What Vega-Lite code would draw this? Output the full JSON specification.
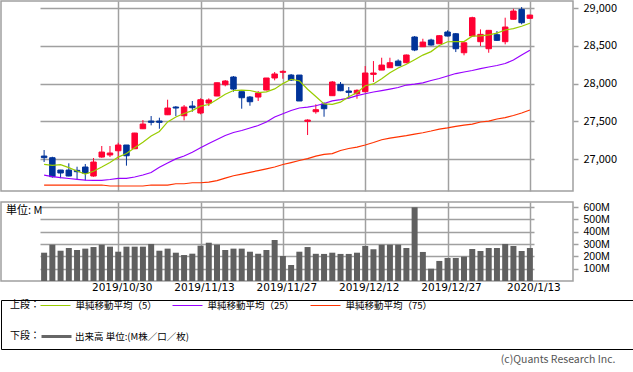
{
  "$schema": "https://vega.github.io/schema/vega-lite/v6.json",
  "padding": 0,
  "background": "white",
  "config": {"font": "Noto Sans CJK JP", "view": {"stroke": null}},
  "title": {"text": "(c)Quants Research Inc.", "orient": "bottom", "anchor": "end", "offset": 5, "dx": -18, "fontSize": 10.5, "fontWeight": "normal", "color": "#555555"},
  "resolve": {"scale": {"color": "independent", "stroke": "independent"}, "legend": {"color": "independent", "stroke": "independent"}},
  "datasets": {
    "ohlc": [
      {"d": "2019/10/17", "o": 27043, "h": 27123, "l": 26964, "c": 27022, "v": 230, "m5": 26933, "m25": 26792, "m75": 26660},
      {"d": "2019/10/18", "o": 27021, "h": 27034, "l": 26757, "c": 26770, "v": 295, "m5": 26920, "m25": 26772, "m75": 26660},
      {"d": "2019/10/21", "o": 26858, "h": 26860, "l": 26750, "c": 26819, "v": 246, "m5": 26930, "m25": 26757, "m75": 26660},
      {"d": "2019/10/22", "o": 26858, "h": 26947, "l": 26775, "c": 26779, "v": 268, "m5": 26890, "m25": 26746, "m75": 26660},
      {"d": "2019/10/23", "o": 26854, "h": 26902, "l": 26735, "c": 26836, "v": 252, "m5": 26845, "m25": 26735, "m75": 26660},
      {"d": "2019/10/24", "o": 26898, "h": 26938, "l": 26722, "c": 26814, "v": 263, "m5": 26804, "m25": 26726, "m75": 26660},
      {"d": "2019/10/25", "o": 26779, "h": 27017, "l": 26770, "c": 26964, "v": 276, "m5": 26842, "m25": 26722, "m75": 26660},
      {"d": "2019/10/28", "o": 27030, "h": 27176, "l": 27021, "c": 27096, "v": 295, "m5": 26898, "m25": 26722, "m75": 26660},
      {"d": "2019/10/29", "o": 27057, "h": 27176, "l": 27030, "c": 27083, "v": 279, "m5": 26959, "m25": 26733, "m75": 26647},
      {"d": "2019/10/30", "o": 27113, "h": 27219, "l": 27000, "c": 27189, "v": 238, "m5": 27029, "m25": 26749, "m75": 26647},
      {"d": "2019/10/31", "o": 27189, "h": 27189, "l": 26916, "c": 27047, "v": 279, "m5": 27076, "m25": 26749, "m75": 26647},
      {"d": "2019/11/1", "o": 27140, "h": 27350, "l": 27135, "c": 27347, "v": 279, "m5": 27152, "m25": 26766, "m75": 26647},
      {"d": "2019/11/4", "o": 27404, "h": 27519, "l": 27400, "c": 27466, "v": 279, "m5": 27226, "m25": 26792, "m75": 26647},
      {"d": "2019/11/5", "o": 27506, "h": 27572, "l": 27449, "c": 27489, "v": 301, "m5": 27308, "m25": 26825, "m75": 26660},
      {"d": "2019/11/6", "o": 27506, "h": 27550, "l": 27404, "c": 27489, "v": 246, "m5": 27368, "m25": 26895, "m75": 26660},
      {"d": "2019/11/7", "o": 27589, "h": 27788, "l": 27585, "c": 27678, "v": 263, "m5": 27494, "m25": 26951, "m75": 26660},
      {"d": "2019/11/8", "o": 27691, "h": 27704, "l": 27572, "c": 27678, "v": 230, "m5": 27560, "m25": 27006, "m75": 26677},
      {"d": "2019/11/11", "o": 27576, "h": 27718, "l": 27515, "c": 27691, "v": 211, "m5": 27605, "m25": 27043, "m75": 26677},
      {"d": "2019/11/12", "o": 27704, "h": 27771, "l": 27629, "c": 27682, "v": 222, "m5": 27644, "m25": 27094, "m75": 26690},
      {"d": "2019/11/13", "o": 27612, "h": 27806, "l": 27595, "c": 27788, "v": 287, "m5": 27703, "m25": 27153, "m75": 26690},
      {"d": "2019/11/14", "o": 27744, "h": 27806, "l": 27704, "c": 27784, "v": 311, "m5": 27725, "m25": 27209, "m75": 26699},
      {"d": "2019/11/15", "o": 27837, "h": 28015, "l": 27835, "c": 28012, "v": 295, "m5": 27791, "m25": 27262, "m75": 26719},
      {"d": "2019/11/18", "o": 27986, "h": 28048, "l": 27965, "c": 28035, "v": 252, "m5": 27860, "m25": 27314, "m75": 26752},
      {"d": "2019/11/19", "o": 28088, "h": 28101, "l": 27894, "c": 27929, "v": 263, "m5": 27910, "m25": 27354, "m75": 26783},
      {"d": "2019/11/20", "o": 27894, "h": 27894, "l": 27669, "c": 27814, "v": 263, "m5": 27915, "m25": 27381, "m75": 26805},
      {"d": "2019/11/21", "o": 27823, "h": 27837, "l": 27708, "c": 27761, "v": 238, "m5": 27910, "m25": 27414, "m75": 26828},
      {"d": "2019/11/22", "o": 27823, "h": 27903, "l": 27771, "c": 27876, "v": 222, "m5": 27883, "m25": 27447, "m75": 26851},
      {"d": "2019/11/25", "o": 27916, "h": 28075, "l": 27912, "c": 28075, "v": 252, "m5": 27891, "m25": 27493, "m75": 26874},
      {"d": "2019/11/26", "o": 28075, "h": 28154, "l": 28044, "c": 28128, "v": 333, "m5": 27931, "m25": 27559, "m75": 26898},
      {"d": "2019/11/27", "o": 28150, "h": 28176, "l": 28065, "c": 28163, "v": 203, "m5": 28001, "m25": 27603, "m75": 26931},
      {"d": "2019/11/29", "o": 28114, "h": 28128, "l": 28035, "c": 28048, "v": 130, "m5": 28058, "m25": 27645, "m75": 26957},
      {"d": "2019/12/2", "o": 28114, "h": 28114, "l": 27771, "c": 27771, "v": 238, "m5": 28037, "m25": 27678, "m75": 26984},
      {"d": "2019/12/3", "o": 27502, "h": 27529, "l": 27321, "c": 27519, "v": 276, "m5": 27926, "m25": 27691, "m75": 27010},
      {"d": "2019/12/4", "o": 27629, "h": 27727, "l": 27603, "c": 27656, "v": 221, "m5": 27831, "m25": 27708, "m75": 27043},
      {"d": "2019/12/5", "o": 27731, "h": 27753, "l": 27563, "c": 27669, "v": 220, "m5": 27733, "m25": 27738, "m75": 27066},
      {"d": "2019/12/6", "o": 27841, "h": 28035, "l": 27838, "c": 28022, "v": 230, "m5": 27727, "m25": 27773, "m75": 27076},
      {"d": "2019/12/9", "o": 27991, "h": 28022, "l": 27900, "c": 27907, "v": 220, "m5": 27755, "m25": 27790, "m75": 27116},
      {"d": "2019/12/10", "o": 27903, "h": 27956, "l": 27801, "c": 27885, "v": 220, "m5": 27828, "m25": 27810, "m75": 27143},
      {"d": "2019/12/11", "o": 27867, "h": 27925, "l": 27801, "c": 27912, "v": 230, "m5": 27879, "m25": 27841, "m75": 27162},
      {"d": "2019/12/12", "o": 27894, "h": 28233, "l": 27885, "c": 28141, "v": 285, "m5": 27973, "m25": 27867, "m75": 27189},
      {"d": "2019/12/13", "o": 28123, "h": 28299, "l": 28022, "c": 28141, "v": 258, "m5": 27997, "m25": 27890, "m75": 27222},
      {"d": "2019/12/16", "o": 28180, "h": 28343, "l": 28180, "c": 28246, "v": 295, "m5": 28065, "m25": 27909, "m75": 27259},
      {"d": "2019/12/17", "o": 28211, "h": 28343, "l": 28211, "c": 28277, "v": 295, "m5": 28143, "m25": 27929, "m75": 27281},
      {"d": "2019/12/18", "o": 28299, "h": 28321, "l": 28235, "c": 28237, "v": 295, "m5": 28208, "m25": 27949, "m75": 27297},
      {"d": "2019/12/19", "o": 28277, "h": 28385, "l": 28270, "c": 28379, "v": 268, "m5": 28256, "m25": 27982, "m75": 27314},
      {"d": "2019/12/20", "o": 28617, "h": 28630, "l": 28430, "c": 28445, "v": 599, "m5": 28317, "m25": 27995, "m75": 27334},
      {"d": "2019/12/23", "o": 28488, "h": 28594, "l": 28485, "c": 28550, "v": 236, "m5": 28378, "m25": 28011, "m75": 27351},
      {"d": "2019/12/24", "o": 28577, "h": 28594, "l": 28502, "c": 28511, "v": 100, "m5": 28424, "m25": 28042, "m75": 27374},
      {"d": "2019/12/26", "o": 28528, "h": 28640, "l": 28525, "c": 28634, "v": 163, "m5": 28504, "m25": 28068, "m75": 27400},
      {"d": "2019/12/27", "o": 28683, "h": 28705, "l": 28625, "c": 28630, "v": 187, "m5": 28554, "m25": 28101, "m75": 27416},
      {"d": "2019/12/30", "o": 28660, "h": 28670, "l": 28418, "c": 28462, "v": 187, "m5": 28557, "m25": 28134, "m75": 27436},
      {"d": "2019/12/31", "o": 28409, "h": 28545, "l": 28375, "c": 28541, "v": 198, "m5": 28556, "m25": 28154, "m75": 27453},
      {"d": "2020/1/2", "o": 28630, "h": 28885, "l": 28625, "c": 28872, "v": 260, "m5": 28628, "m25": 28174, "m75": 27466},
      {"d": "2020/1/3", "o": 28555, "h": 28718, "l": 28498, "c": 28652, "v": 244, "m5": 28631, "m25": 28200, "m75": 27493},
      {"d": "2020/1/6", "o": 28462, "h": 28710, "l": 28409, "c": 28705, "v": 268, "m5": 28646, "m25": 28220, "m75": 27506},
      {"d": "2020/1/7", "o": 28647, "h": 28696, "l": 28564, "c": 28573, "v": 268, "m5": 28669, "m25": 28240, "m75": 27533},
      {"d": "2020/1/8", "o": 28555, "h": 28872, "l": 28520, "c": 28749, "v": 301, "m5": 28710, "m25": 28266, "m75": 27552},
      {"d": "2020/1/9", "o": 28851, "h": 28990, "l": 28848, "c": 28960, "v": 285, "m5": 28728, "m25": 28313, "m75": 27579},
      {"d": "2020/1/10", "o": 28982, "h": 29013, "l": 28785, "c": 28806, "v": 244, "m5": 28759, "m25": 28379, "m75": 27612},
      {"d": "2020/1/13", "o": 28864, "h": 28910, "l": 28860, "c": 28907, "v": 268, "m5": 28799, "m25": 28441, "m75": 27652}
    ]
  },
  "spacing": 5,
  "vconcat": [
    {
      "spacing": 9,
      "vconcat": [
        {
          "width": 572,
          "height": 190,
          "data": {"name": "ohlc"},
          "view": {"stroke": "#a0a0a0", "strokeWidth": 1.5},
          "encoding": {
            "x": {"field": "d", "type": "ordinal", "sort": null, "scale": {"type": "point", "range": [39, 533]},
              "axis": {"values": ["2019/10/30", "2019/11/13", "2019/11/27", "2019/12/12", "2019/12/27", "2020/1/13"], "labels": false, "ticks": false, "domain": false, "grid": true, "gridColor": "#a0a0a0", "gridWidth": 1.5, "minExtent": 0, "title": null}}
          },
          "layer": [
            {
              "mark": {"type": "rule", "strokeWidth": 1},
              "encoding": {
                "y": {"field": "l", "type": "quantitative", "scale": {"domain": [26581, 29093], "nice": false, "zero": false},
                  "axis": {"orient": "right", "values": [27000, 27500, 28000, 28500, 29000], "labelExpr": "format(datum.value, ',')", "grid": true, "gridColor": "#a0a0a0", "gridWidth": 1.5, "domain": false, "tickColor": "#a0a0a0", "tickWidth": 1.5, "tickSize": 5, "labelPadding": 5, "labelFontSize": 11, "labelColor": "#000000", "title": null}},
                "y2": {"field": "h"},
                "color": {"condition": {"test": "datum.c >= datum.o", "value": "#ff0033"}, "value": "#003399"}
              }
            },
            {
              "mark": {"type": "bar", "width": 5.5, "strokeWidth": 1},
              "encoding": {
                "y": {"field": "o", "type": "quantitative"},
                "y2": {"field": "c"},
                "color": {"condition": {"test": "datum.c >= datum.o", "value": "#ff0033"}, "value": "#003399"},
                "stroke": {"condition": {"test": "datum.c >= datum.o", "value": "#ff0033"}, "value": "#003399"}
              }
            },
            {"mark": {"type": "line", "color": "#ff3300", "strokeWidth": 1.2}, "encoding": {"y": {"field": "m75", "type": "quantitative"}}},
            {"mark": {"type": "line", "color": "#9900ff", "strokeWidth": 1.2}, "encoding": {"y": {"field": "m25", "type": "quantitative"}}},
            {"mark": {"type": "line", "color": "#99cc00", "strokeWidth": 1.2}, "encoding": {"y": {"field": "m5", "type": "quantitative"}}}
          ]
        },
        {
          "width": 572,
          "height": 79,
          "data": {"name": "ohlc"},
          "view": {"stroke": "#a0a0a0", "strokeWidth": 1.5},
          "title": {"text": "単位: M", "anchor": "start", "frame": "group", "offset": -14, "dx": 5, "fontSize": 11, "fontWeight": "normal", "color": "#000000"},
          "mark": {"type": "bar", "width": 6, "color": "#606060"},
          "encoding": {
            "x": {"field": "d", "type": "ordinal", "sort": null, "scale": {"type": "point", "range": [39, 533]},
              "axis": {"values": ["2019/10/30", "2019/11/13", "2019/11/27", "2019/12/12", "2019/12/27", "2020/1/13"], "labelAngle": 0, "ticks": false, "tickSize": 0, "domain": false, "grid": true, "gridColor": "#a0a0a0", "gridWidth": 1.5, "labelPadding": 1, "labelOffset": 3.5, "labelFont": "DejaVu Sans", "labelFontSize": 10.5, "labelColor": "#000000", "title": null}},
            "y": {"field": "v", "type": "quantitative", "scale": {"domain": [0, 642], "nice": false},
              "axis": {"orient": "right", "values": [100, 200, 300, 400, 500, 600], "labelExpr": "datum.value + 'M'", "grid": true, "gridColor": "#a0a0a0", "gridWidth": 1.5, "domain": false, "tickColor": "#a0a0a0", "tickWidth": 1.5, "tickSize": 5, "labelPadding": 5, "labelFont": "Liberation Sans", "labelFontSize": 10.5, "labelColor": "#000000", "title": null}}
          }
        }
      ]
    },
    {
      "width": 632,
      "height": 49,
      "view": {"stroke": "#000000", "strokeWidth": 1},
      "data": {"values": []},
      "layer": [
        {
          "mark": {"type": "line"},
          "encoding": {
            "stroke": {"field": "s", "type": "nominal",
              "scale": {"domain": ["単純移動平均（5）", "単純移動平均（25）", "単純移動平均（75）"], "range": ["#99cc00", "#9900ff", "#ff3300"]},
              "legend": {"orient": "none", "legendX": 9, "legendY": 0, "direction": "horizontal", "title": "上段：", "titleOrient": "left", "titleFontSize": 10, "titleFontWeight": "normal", "titleColor": "#000000", "titlePadding": 0, "symbolType": "M-3,0H3", "symbolSize": 100, "symbolStrokeWidth": 1, "symbolOffset": 10, "labelFontSize": 9.5, "labelColor": "#000000", "labelOffset": 14.5, "columnPadding": 13, "padding": 0, "labelLimit": 300}
            }
          }
        },
        {
          "mark": {"type": "rule"},
          "encoding": {
            "color": {"field": "k", "type": "nominal",
              "scale": {"domain": ["出来高 単位:(M株／口／枚)"], "range": ["#666666"]},
              "legend": {"orient": "none", "legendX": 9, "legendY": 30, "direction": "horizontal", "title": "下段：", "titleOrient": "left", "titleFontSize": 10, "titleFontWeight": "normal", "titleColor": "#000000", "titlePadding": 0, "symbolType": "M-3,0H3", "symbolSize": 100, "symbolStrokeWidth": 3, "symbolOffset": 10, "labelFontSize": 9.5, "labelColor": "#000000", "labelOffset": 12, "padding": 0, "labelLimit": 300}
            }
          }
        }
      ]
    }
  ]
}
